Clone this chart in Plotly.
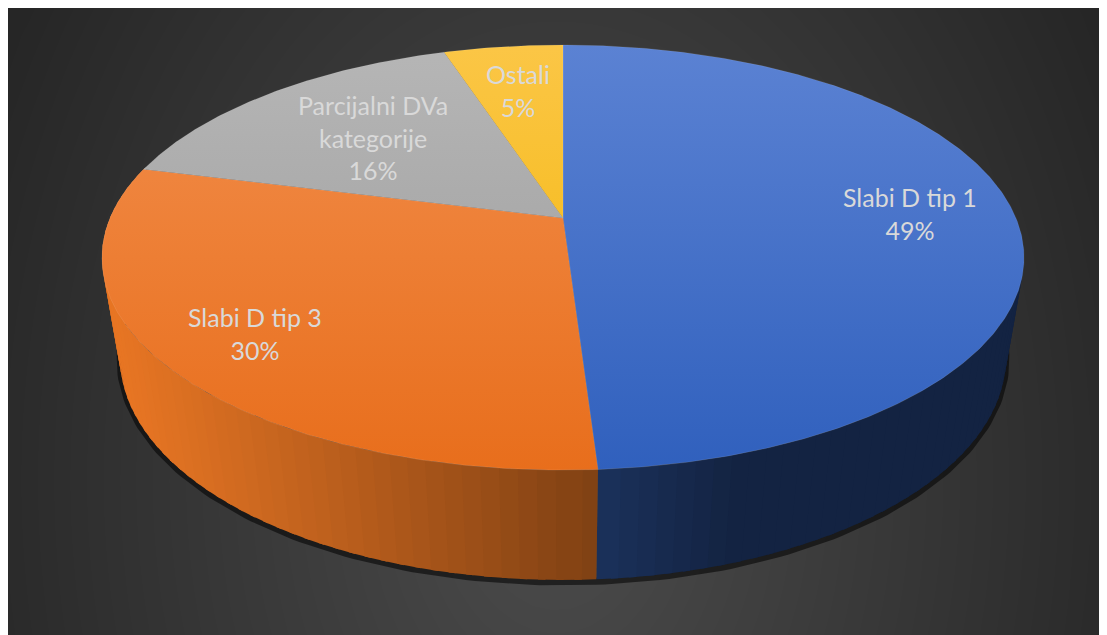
import numpy as np
import plotly.graph_objects as go

# ---- data ----
categories = ["Slabi D tip 1", "Slabi D tip 3", "Parcijalni DVa<br>kategorije", "Ostali"]
values = [49, 30, 16, 5]

# ---- style ----
top_colors = [("#5b82d3", "#3060bd"), ("#f28e4c", "#e86e1c"), ("#b6b6b6", "#999999"), ("#fbc646", "#f2b400")]
side_base = [(49, 89, 165), (232, 118, 36), (150, 150, 150), (225, 170, 0)]
label_r = [0.77, 0.80, 0.62, 0.71]
FONT = "Lato"
TXT = "#d9d9d9"

W, H = 1107, 635
OFF = 8                      # page body margin: figure origin on screen
CX, CY = 563, 218            # projected pie centre (screen pixels)
A, B, K = 453, 205.2, 0.186  # perspective of top face
HD, M = 103.7, 0.0394        # depth of the cylinder


def proj(X, Y, bottom=False):
    X = np.asarray(X, float)
    Y = np.asarray(Y, float)
    if bottom:
        w = 1 + K * Y + M
        return CX + A * X / w, CY + (HD - B * Y) / w
    w = 1 + K * Y
    return CX + A * X / w, CY - B * Y / w


fig = go.Figure()

# background radial gradient
gx = np.linspace(OFF, W + OFF, 60)
gy = np.linspace(OFF, H + OFF, 36)
XX, YY = np.meshgrid(gx, gy)
d = np.sqrt(((XX - 556) / 560) ** 2 + ((YY - 480) / 800) ** 2)
zz = np.clip(76 - 34 * d, 38, 76)
fig.add_trace(go.Heatmap(x=gx, y=gy, z=zz, zmin=38, zmax=76, zsmooth="best",
                         colorscale=[[0, "rgb(38,38,38)"], [1, "rgb(76,76,76)"]],
                         showscale=False, hoverinfo="skip"))

total = float(sum(values))
bounds = np.concatenate([[0], np.cumsum(values)]) / total * 360.0

# shadow under the pie
th = np.radians(np.linspace(80, 280, 200))
sx, sy = proj(np.sin(th), np.cos(th), bottom=True)
fig.add_trace(go.Scatter(x=sx, y=sy + 2, mode="lines", line=dict(color="rgba(0,0,0,0.55)", width=7),
                         hoverinfo="skip", showlegend=False))

# side segments
L = np.array([-0.95, -0.31])
L = L / np.linalg.norm(L)
segs = []
for i in range(len(values)):
    a0, a1 = bounds[i], bounds[i + 1]
    lo, hi = max(a0, 75.0), min(a1, 285.0)
    if hi <= lo:
        continue
    n = max(1, int(np.ceil((hi - lo) / 2.0)))
    edges = np.linspace(lo, hi, n + 1)
    for j in range(n):
        e0 = max(lo, edges[j] - 0.4)
        e1 = min(hi, edges[j + 1] + 0.4)
        t = np.radians(np.linspace(e0, e1, 4))
        tm = np.radians((edges[j] + edges[j + 1]) / 2)
        nv = np.array([np.sin(tm), np.cos(tm)])
        f = 0.4 + 0.6 * max(0.0, float(nv @ L))
        c = tuple(int(min(255, v * f)) for v in side_base[i])
        segs.append((np.cos(tm), t, "rgb(%d,%d,%d)" % c))
segs.sort(key=lambda s: -s[0])
for _, t, col in segs:
    tx, ty = proj(np.sin(t), np.cos(t))
    bx, by = proj(np.sin(t[::-1]), np.cos(t[::-1]), bottom=True)
    fig.add_trace(go.Scatter(x=np.concatenate([tx, bx, tx[:1]]), y=np.concatenate([ty, by, ty[:1]]),
                             mode="lines", fill="toself", fillcolor=col,
                             line=dict(color=col, width=0), hoverinfo="skip", showlegend=False))

# top faces
for i in range(len(values)):
    a0, a1 = bounds[i], bounds[i + 1]
    t = np.radians(np.linspace(a0, a1, max(3, int((a1 - a0) * 2))))
    ax, ay = proj(np.sin(t), np.cos(t))
    px = np.concatenate([[CX], ax, [CX]])
    py = np.concatenate([[CY], ay, [CY]])
    c_top, c_bot = top_colors[i]
    fig.add_trace(go.Scatter(x=px, y=py, mode="lines", fill="toself",
                             fillgradient=dict(type="vertical", start=45, stop=470,
                                               colorscale=[[0, c_top], [1, c_bot]]),
                             line=dict(color="rgba(255,255,255,0.12)", width=0.8),
                             hoverinfo="skip", showlegend=False))

# labels
for i, (cat, v) in enumerate(zip(categories, values)):
    am = np.radians((bounds[i] + bounds[i + 1]) / 2)
    lx, ly = proj(label_r[i] * np.sin(am), label_r[i] * np.cos(am))
    fig.add_annotation(x=float(lx), y=float(ly), xref="x", yref="y", text=f"{cat}<br>{v}%",
                       showarrow=False, font=dict(family=FONT, size=25, color=TXT), align="center")

fig.update_layout(
    width=W, height=H, margin=dict(l=0, r=0, t=0, b=0),
    paper_bgcolor="#2a2a2a", plot_bgcolor="#2a2a2a", showlegend=False,
    xaxis=dict(range=[OFF, W + OFF], visible=False, fixedrange=True),
    yaxis=dict(range=[H + OFF, OFF], visible=False, fixedrange=True),
)
fig.write_html("out.html")
